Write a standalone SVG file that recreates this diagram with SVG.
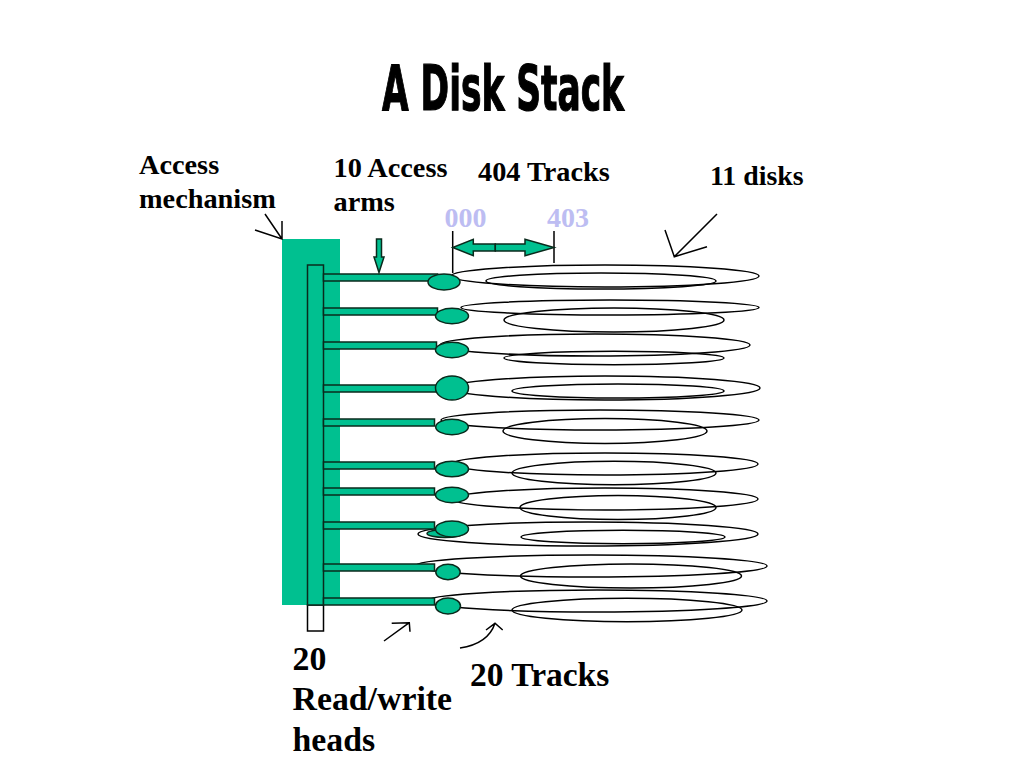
<svg xmlns="http://www.w3.org/2000/svg" width="1024" height="768" viewBox="0 0 1024 768">
<style>
.t{font-family:"Liberation Serif","Times New Roman",serif;font-weight:bold;fill:#000}
.lab{font-size:28.3px}
.big{font-size:33.8px}
.num{font-size:28px;fill:#bdbdf2}
.disk{fill:none;stroke:#000;stroke-width:1.5}
.g{fill:#00c090;stroke:#0a2a1c;stroke-width:1.5}
.ln{fill:none;stroke:#000;stroke-width:1.5}
</style>
<rect width="1024" height="768" fill="#fff"/>
<text x="382" y="110" font-family="'Liberation Sans Narrow','DejaVu Sans Condensed',sans-serif" font-weight="bold" font-size="62" stroke="#000" stroke-width="1.2" textLength="242" lengthAdjust="spacingAndGlyphs">A Disk Stack</text>

<g id="disks">
<g id="disk1"><ellipse class="disk" cx="605" cy="276" rx="154" ry="11"/><ellipse class="disk" cx="601" cy="281" rx="115" ry="8"/></g>
<g id="disk2"><ellipse class="disk" cx="610" cy="307.5" rx="149" ry="7.5"/><ellipse class="disk" cx="614" cy="320" rx="110" ry="12"/></g>
<g id="disk3"><ellipse class="disk" cx="595" cy="345" rx="155" ry="11"/><ellipse class="disk" cx="614" cy="358" rx="110" ry="6.7"/></g>
<g id="disk4"><ellipse class="disk" cx="605" cy="388" rx="155" ry="12"/><ellipse class="disk" cx="618" cy="391" rx="106" ry="7"/></g>
<g id="disk5"><ellipse class="disk" cx="600" cy="420" rx="159" ry="10"/><ellipse class="disk" cx="605" cy="431" rx="102" ry="12.5"/></g>
<g id="disk6"><ellipse class="disk" cx="605" cy="464" rx="153" ry="11"/><ellipse class="disk" cx="614" cy="473" rx="102" ry="11.7"/></g>
<g id="disk7"><ellipse class="disk" cx="605" cy="499" rx="153" ry="11"/><ellipse class="disk" cx="618" cy="507.5" rx="98" ry="12"/></g>
<g id="disk8"><ellipse class="disk" cx="588" cy="534" rx="170" ry="12"/><ellipse class="disk" cx="623" cy="537" rx="102" ry="6.7"/><ellipse class="g" cx="445" cy="533.5" rx="18" ry="4" stroke="#000"/></g>
<g id="disk9"><ellipse class="disk" cx="591" cy="566" rx="176" ry="11"/><ellipse class="disk" cx="631" cy="576" rx="110.5" ry="12"/></g>
<g id="disk10"><ellipse class="disk" cx="597" cy="601" rx="170" ry="11"/><ellipse class="disk" cx="627" cy="610" rx="115" ry="11.7"/></g>
</g>

<g id="access-mechanism">
<rect x="282" y="239" width="58" height="366" fill="#00c090"/>
<rect x="307.5" y="605" width="16" height="26" fill="#fff" stroke="#000" stroke-width="1.5"/>
<rect class="g" x="307.5" y="265" width="16" height="340" stroke="#000"/>
</g>

<g id="arms">
<rect class="g" x="323.5" y="274" width="114" height="7"/>
<rect class="g" x="323.5" y="308" width="114" height="7"/>
<rect class="g" x="323.5" y="342" width="113" height="7"/>
<rect class="g" x="323.5" y="385" width="113" height="7"/>
<rect class="g" x="323.5" y="419" width="111" height="7"/>
<rect class="g" x="323.5" y="462" width="111" height="7"/>
<rect class="g" x="323.5" y="488" width="111" height="7"/>
<rect class="g" x="323.5" y="522" width="111" height="7"/>
<rect class="g" x="323.5" y="564" width="111" height="7"/>
<rect class="g" x="323.5" y="598" width="111" height="7"/>
</g>

<g id="heads">
<ellipse class="g" cx="444" cy="282" rx="16" ry="8"/>
<ellipse class="g" cx="452" cy="316" rx="16.5" ry="7.7"/>
<ellipse class="g" cx="452" cy="350" rx="16.5" ry="7.7"/>
<ellipse class="g" cx="452" cy="388" rx="16.5" ry="12"/>
<ellipse class="g" cx="452" cy="427" rx="16.3" ry="7.7"/>
<ellipse class="g" cx="452" cy="469" rx="16.5" ry="7.8"/>
<ellipse class="g" cx="452" cy="495" rx="16.5" ry="7.7"/>
<ellipse class="g" cx="452" cy="529" rx="16.5" ry="8"/>
<ellipse class="g" cx="448" cy="572" rx="12.2" ry="7.7"/>
<ellipse class="g" cx="448" cy="606" rx="12.5" ry="8"/>
</g>

<g id="connectors">
<path class="ln" d="M265,214 L282,239 M255,230 L282,239 L282,221"/>
<path class="g" d="M376.5,239 H381.5 V257 H384 L379,272.5 L374,257 H376.5 Z" stroke="#000"/>
<path class="ln" d="M452.7,231 V273 M554,231 V263"/>
<path class="g" d="M495.3,244 H473.3 V239.3 L452.7,247.5 L473.3,255.7 V251 H495.3 Z" stroke="#000"/>
<path class="g" d="M495.3,244 H525 V239.3 L554,247.5 L525,255.7 V251 H495.3 Z" stroke="#000"/>
<path class="ln" d="M717,214 L674.3,256.7 M665,230 L674.3,256.7 L707,246.7"/>
<path class="ln" d="M384,641 L409.3,622.7 M391.7,623.3 L409.3,622.7 L410,631.7"/>
<path class="ln" d="M460,648 Q488,644 495,623.3 M486,630 L495,623.3 L502.7,630"/>
</g>

<g id="labels">
<text class="t lab" x="139" y="174">Access</text>
<text class="t lab" x="139" y="208">mechanism</text>
<text class="t lab" x="333.5" y="177">10 Access</text>
<text class="t lab" x="333.5" y="211">arms</text>
<text class="t lab" x="478" y="180.5">404 Tracks</text>
<text class="t num" x="444.5" y="227">000</text>
<text class="t num" x="547" y="227">403</text>
<text class="t" font-size="27.8" x="710" y="185">11 disks</text>
<text class="t big" x="292.5" y="669.5">20</text>
<text class="t big" x="292.5" y="710">Read/write</text>
<text class="t big" x="292.5" y="750.5">heads</text>
<text class="t" font-size="33.5" x="470" y="686">20 Tracks</text>
</g>
</svg>
